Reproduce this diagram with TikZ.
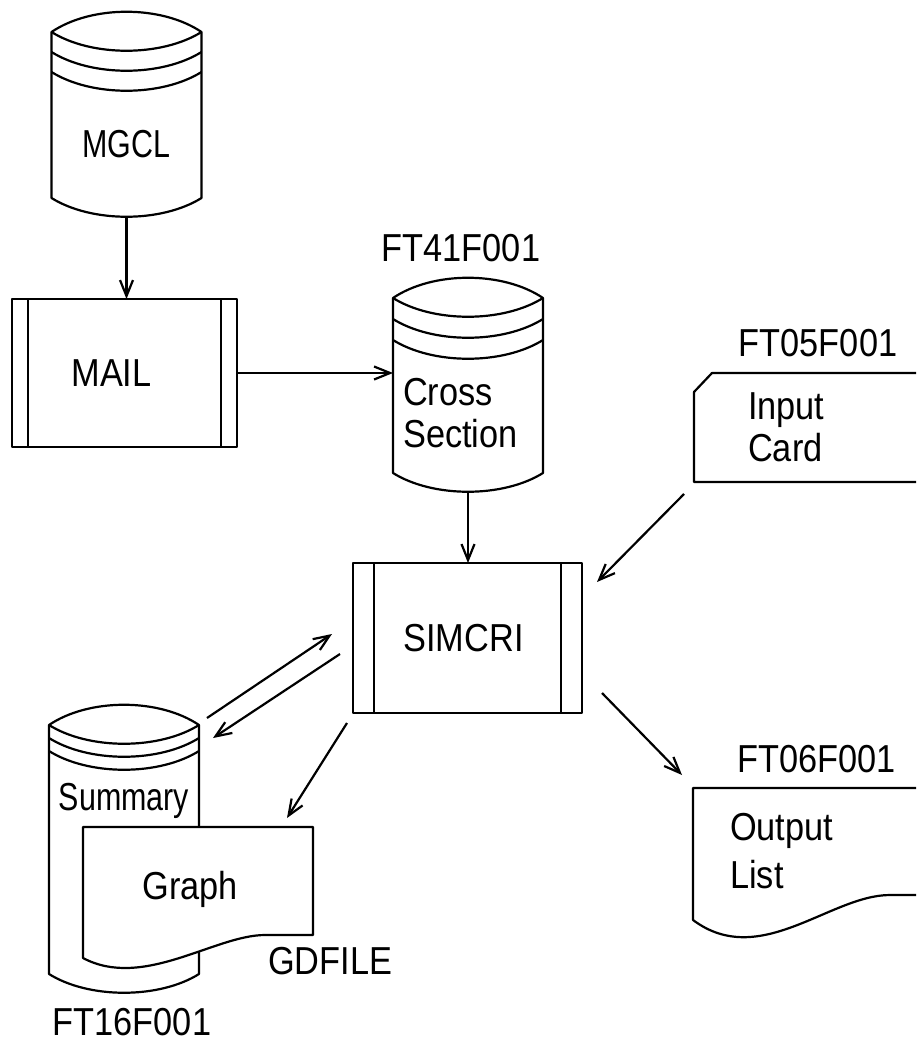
\documentclass[tikz,border=0pt]{standalone}
\usepackage{fontspec}
\setmainfont[FakeStretch=0.88]{Liberation Sans}
\newfontfamily\narrowfont[FakeStretch=0.78]{Liberation Sans}
\usetikzlibrary{arrows.meta, positioning, calc}

\begin{document}
\begin{tikzpicture}[
    x=1pt, y=1pt,
    % Define styles for reusable components
    line/.style={line width=2.2pt, line join=round},
    body/.style={inner sep=0pt, outer sep=0pt, minimum width=150pt},
    proc/.style={draw, line, inner sep=0pt, outer sep=0pt, path picture={
        \draw[line] ([xshift=#1]path picture bounding box.north west) -- ([xshift=#1]path picture bounding box.south west)
                    ([xshift=-#1]path picture bounding box.north east) -- ([xshift=-#1]path picture bounding box.south east);}},
    txt/.style={inner sep=0pt, font=\fontsize{39}{42}\selectfont},
    flow/.style={line, -{Straight Barb[length=16pt, width=13pt]}}
]

	\tikzset{
    	pics/disk/.style 2 args={code={
    	    % Outline: lens on top, round bottom (#1 = total height)
    	    \draw[line, fill=white] (0,-20) .. controls (40,7) and (110,7) .. (150,-20)
    	        -- (150,-#1+19) .. controls (110,-#1-6) and (40,-#1-6) .. (0,-#1+19) -- cycle;
    	    % Lens and rings (#2 = ring spacing)
    	    \foreach \d in {0,1,2}
    	        \draw[line] (0,-20-\d*#2) .. controls (40,-45-\d*#2) and (110,-45-\d*#2) .. (150,-20-\d*#2);
    	}}
	}

    \useasboundingbox (0,0) rectangle (916,-1043);

    % --- MGCL ---
    \node[body, minimum height=205pt] (mgcl) at (126.5,-114.5) {};
    \path (mgcl.north west) pic {disk={205}{20}};
    \node[txt, font=\fontsize{39}{42}\narrowfont] (mgcl-txt) at ([yshift=-30pt]mgcl.center) {MGCL};

    % --- MAIL ---
    \node[proc=16pt, minimum width=225pt, minimum height=148pt] (mail) at (124.5,-373) {};
    \node[txt] (mail-txt) at ([xshift=-13pt]mail.center) {MAIL};

    % --- CROSS SECTION (FT41F001) ---
    \node[body, minimum height=214pt] (cross) at (468,-385) {};
    \path (cross.north west) pic {disk={214}{21}};
    \node[txt, align=left, anchor=north west] (cross-txt) at ([shift={(10,-100)}]cross.north west) {Cross\\Section};
    \node[txt, above=16pt of cross, xshift=-7pt] (ft41) {FT41F001};

    % --- SIMCRI ---
    \node[proc=21pt, minimum width=229pt, minimum height=150pt] (simcri) at (467.5,-638) {};
    \node[txt] (simcri-txt) at ([xshift=-4pt]simcri.center) {SIMCRI};

    % --- INPUT CARD (FT05F001) ---
    \node[body, minimum width=222pt, minimum height=109pt] (card) at (805,-427.5) {};
    \draw[line] (card.south east) -- (card.south west) -- ([yshift=-19pt]card.north west)
        -- ([xshift=18pt]card.north west) -- (card.north east);
    \node[txt, align=left, anchor=north west] (card-txt) at ([shift={(54,-19)}]card.north west) {Input\\Card};
    \node[txt, above=16pt of card, xshift=13pt] (ft05) {FT05F001};

    % --- OUTPUT LIST (FT06F001) ---
    \node[body, minimum width=223pt, minimum height=132pt] (output) at (804.5,-854) {};
    \draw[line] (output.north east) -- (output.north west) -- (output.south west)
        .. controls +(67,-50) and +(-60,0) .. ([shift={(-26,25)}]output.south east) -- ([yshift=25pt]output.south east);
    \node[txt, align=left, anchor=north west] (output-txt) at ([shift={(37,-25)}]output.north west) {Output\\[6pt]List};
    \node[txt, above=15pt of output, xshift=12pt] (ft06) {FT06F001};

    % --- SUMMARY (FT16F001) ---
    \node[body, minimum height=288pt] (summary) at (124,-849) {};
    \path (summary.north west) pic {disk={288}{13}};
    \node[txt, font=\fontsize{39}{42}\narrowfont, below=78pt of summary.north] (summary-txt) {Summary};
    \node[txt, below=15pt of summary, xshift=8pt] (ft16) {FT16F001};

    % --- GRAPH (GDFILE), in front of the summary ---
    \node[body, minimum width=230pt, minimum height=131pt] (graph) at (198,-892.5) {};
    \draw[line, fill=white] (graph.south west) .. controls +(60,-32) and +(-50,0) .. ([shift={(-48,23)}]graph.south east)
        -- ([yshift=23pt]graph.south east) -- (graph.north east) -- (graph.north west) -- cycle;
    \node[txt] (graph-txt) at ([shift={(-8,3)}]graph.center) {Graph};
    \node[txt, anchor=north west] (gdfile) at ([shift={(-45,11)}]graph.south east) {GDFILE};

    % --- DATA FLOW ---
    \draw[flow] (mgcl.south) -- (mgcl.south |- mail.north);
    \draw[flow] (mail.east) -- (mail.east -| cross.west);
    \draw[flow] (cross.south) -- (cross.south |- simcri.north);
    \draw[flow] ([shift={(-10,-12)}]card.south west) -- ([shift={(15,-19)}]simcri.north east);
    \draw[flow] ([shift={(20,20)}]simcri.south east) -- ([shift={(-11,13)}]output.north west);
    \draw[flow] ([shift={(8,-13)}]summary.north east) -- ([shift={(-21,4)}]simcri.west);
    \draw[flow] ([shift={(-13,-16)}]simcri.west) -- ([shift={(14,-33)}]summary.north east);
    \draw[flow] ([shift={(-6,-10)}]simcri.south west) -- ([shift={(-26,9)}]graph.north east);

\end{tikzpicture}
\end{document}
